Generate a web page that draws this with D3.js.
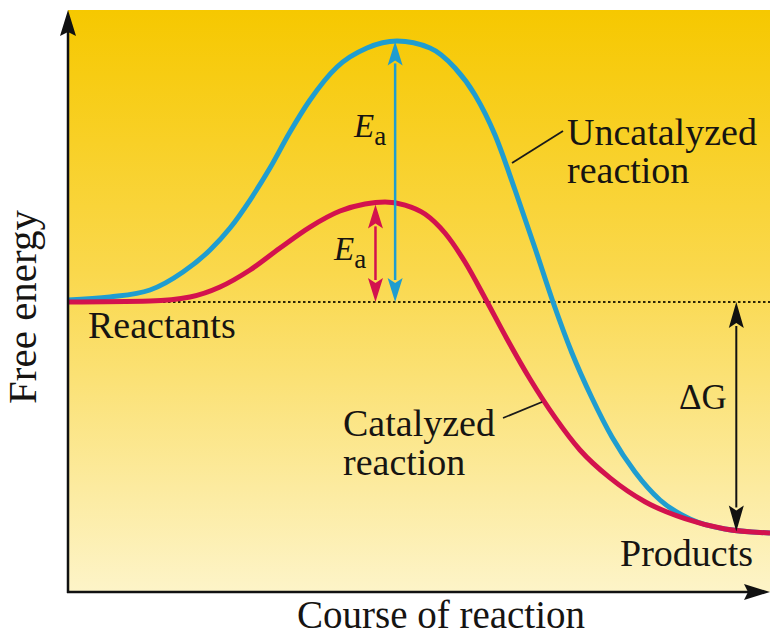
<!DOCTYPE html>
<html>
<head>
<meta charset="utf-8">
<script src="https://cdn.jsdelivr.net/npm/d3@7"></script>
<style>
  body { margin: 0; background: #fff; }
  svg text { font-family: "Liberation Serif", "Times New Roman", serif; fill: #161412; }
</style>
</head>
<body>
<svg width="770" height="637"></svg>
<script>
// reaction coordinate (0-100) and free energy (0-100)
const uncatX = [0, 5.98, 11.68, 16.38, 20.23, 23.08, 25.93, 28.77, 31.62, 34.47, 38.32, 42.59, 46.87, 51.57, 55.13, 57.98, 60.83, 63.68, 66.52, 69.09, 71.79, 74.64, 77.49, 80.77, 84.33, 88.60, 93.59, 100];
const uncatE = [50.17, 50.69, 51.89, 54.98, 58.76, 62.54, 67.35, 72.85, 79.04, 84.54, 90.21, 93.47, 94.67, 93.47, 90.03, 85.40, 78.52, 69.07, 59.11, 49.83, 41.07, 33.33, 26.63, 20.62, 15.81, 12.54, 10.82, 10.14];

const catX = [0, 11.68, 17.38, 21.65, 25.93, 30.20, 34.47, 38.75, 42.31, 45.16, 48.01, 50.85, 53.70, 56.55, 59.40, 62.54, 65.81, 69.37, 72.93, 77.21, 82.19, 87.89, 93.59, 100];
const catE = [49.83, 50.00, 50.69, 52.41, 55.33, 59.11, 62.71, 65.46, 66.67, 67.01, 66.49, 64.95, 61.68, 56.70, 50.52, 43.47, 36.60, 30.00, 24.40, 19.60, 15.50, 12.60, 10.82, 10.14];

const reactantsE = 49.83;
const productsE = 10.4;
const uncatPeakX = 46.6, uncatPeakE = 94.6;
const catPeakX = 43.8, catPeakE = 66.6;
const deltaGX = 95.2;

(function() {
    const svg = d3.select("svg"),
        x0 = 68, x1 = 770, y0 = 10, y1 = 592;

    const x = d3.scaleLinear().domain([0, 100]).range([x0, x1]);
    const y = d3.scaleLinear().domain([0, 100]).range([y1, y0]);

    const blue = "#1f9dd0", red = "#d3124e";

    // background gradient
    const defs = svg.append("defs");
    const grad = defs.append("linearGradient").attr("id", "bg")
        .attr("x1", 0).attr("y1", 0).attr("x2", 0).attr("y2", 1);
    grad.append("stop").attr("offset", "0%").attr("stop-color", "#f6c800");
    grad.append("stop").attr("offset", "45%").attr("stop-color", "#fad84c");
    grad.append("stop").attr("offset", "100%").attr("stop-color", "#fdf4c8");

    svg.append("rect")
        .attr("x", x0).attr("y", y0)
        .attr("width", x1 - x0).attr("height", y1 - y0)
        .attr("fill", "url(#bg)");

    // reactant level dotted line
    svg.append("line")
        .attr("x1", x(0)).attr("x2", x(100))
        .attr("y1", y(reactantsE)).attr("y2", y(reactantsE))
        .attr("stroke", "#2a2206").attr("stroke-width", 2)
        .attr("stroke-dasharray", "2.5,2.5");

    const line = d3.line()
        .x(d => x(d[0]))
        .y(d => y(d[1]))
        .curve(d3.curveMonotoneX);

    svg.append("path")
        .attr("d", line(uncatX.map((v, i) => [v, uncatE[i]])))
        .attr("fill", "none").attr("stroke", blue).attr("stroke-width", 5);

    svg.append("path")
        .attr("d", line(catX.map((v, i) => [v, catE[i]])))
        .attr("fill", "none").attr("stroke", red).attr("stroke-width", 5);

    // double headed arrow
    function dblArrow(xv, e1, e2, color, w, headLen, headW) {
        const px = x(xv), yTop = y(e1), yBot = y(e2);
        svg.append("line")
            .attr("x1", px).attr("x2", px)
            .attr("y1", yTop + headLen - 2).attr("y2", yBot - headLen + 2)
            .attr("stroke", color).attr("stroke-width", w);
        svg.append("path")
            .attr("d", `M${px},${yTop} L${px - headW / 2},${yTop + headLen} L${px},${yTop + headLen - 5} L${px + headW / 2},${yTop + headLen} Z`)
            .attr("fill", color);
        svg.append("path")
            .attr("d", `M${px},${yBot} L${px - headW / 2},${yBot - headLen} L${px},${yBot - headLen + 5} L${px + headW / 2},${yBot - headLen} Z`)
            .attr("fill", color);
    }

    dblArrow(uncatPeakX, uncatPeakE, reactantsE, blue, 2.5, 24, 15);
    dblArrow(catPeakX, catPeakE, reactantsE, red, 2.5, 24, 15);
    dblArrow(deltaGX, reactantsE, productsE, "#111", 2, 26, 15);

    // axes
    svg.append("line")
        .attr("x1", x0).attr("x2", x0).attr("y1", y1 + 1).attr("y2", y0 + 20)
        .attr("stroke", "#111").attr("stroke-width", 2.5);
    svg.append("path")
        .attr("d", `M${x0},${y0} L${x0 - 8},${y0 + 26} L${x0},${y0 + 22} L${x0 + 8},${y0 + 26} Z`)
        .attr("fill", "#111");
    svg.append("line")
        .attr("x1", x0 - 1).attr("x2", x1 - 20).attr("y1", y1).attr("y2", y1)
        .attr("stroke", "#111").attr("stroke-width", 2.5);
    svg.append("path")
        .attr("d", `M${x1},${y1} L${x1 - 26},${y1 - 8} L${x1 - 22},${y1} L${x1 - 26},${y1 + 8} Z`)
        .attr("fill", "#111");

    // labels
    svg.append("text")
        .attr("transform", "translate(36,307) rotate(-90)")
        .attr("text-anchor", "middle")
        .style("font-size", "41px")
        .text("Free energy");

    svg.append("text")
        .attr("x", 441).attr("y", 628)
        .attr("text-anchor", "middle")
        .style("font-size", "39px")
        .text("Course of reaction");

    function plain(tx, ty, str) {
        svg.append("text").attr("x", tx).attr("y", ty)
            .style("font-size", "38px").text(str);
    }
    plain(88, 338, "Reactants");
    plain(620, 566, "Products");
    plain(567, 145, "Uncatalyzed");
    plain(567, 183, "reaction");
    plain(343, 436, "Catalyzed");
    plain(343, 475, "reaction");

    function ea(tx, ty) {
        const t = svg.append("text").attr("x", tx).attr("y", ty).style("font-size", "33px");
        t.append("tspan").style("font-style", "italic").text("E");
        t.append("tspan").attr("dy", 8).style("font-size", "27px").text("a");
    }
    ea(354, 137);
    ea(334, 260);

    svg.append("text").attr("x", 679).attr("y", 409)
        .style("font-size", "35px").text("\u0394G");

    // leader lines
    svg.append("line")
        .attr("x1", 512).attr("y1", 163).attr("x2", 563).attr("y2", 131)
        .attr("stroke", "#1a1a1a").attr("stroke-width", 1.8);
    svg.append("line")
        .attr("x1", 503).attr("y1", 418).attr("x2", 542).attr("y2", 402)
        .attr("stroke", "#1a1a1a").attr("stroke-width", 1.8);
})();
</script>
</body>
</html>
